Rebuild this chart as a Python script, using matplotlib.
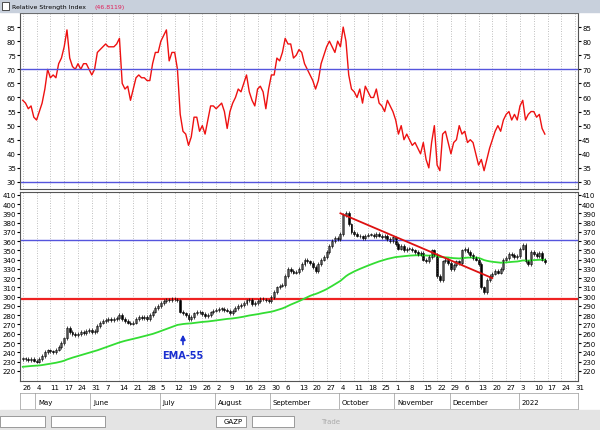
import numpy as np
import matplotlib
matplotlib.use("Agg")
import matplotlib.pyplot as plt
from matplotlib.patches import Rectangle

close = [233,233,232,233,231, 230,233,236,240,242, 241,240,243,246,250, 255,266,262,260,259,
         260,262,261,263,264, 262,263,268,272,274, 275,276,275,276,277, 280,276,274,272,271,
         272,276,278,277,278, 276,280,284,288,290, 293,295,297,296,298, 297,296,284,282,280,
         276,278,282,284,283, 281,279,280,283,285, 286,287,287,286,285, 282,285,288,290,291,
         293,296,297,292,293, 295,298,297,296,295, 300,305,310,312,313, 322,330,328,326,327,
         330,335,340,338,336, 332,328,335,340,343, 348,355,360,363,362, 368,388,390,378,370,
         368,366,365,363,366, 367,367,365,368,366, 364,366,362,360,364, 357,352,355,350,352,
         352,350,348,346,347, 340,338,343,350,345, 322,318,338,340,336, 330,334,338,336,350,
         352,348,345,342,340, 335,310,305,318,322, 325,328,326,330,340, 342,346,345,343,344,
         352,356,338,335,348, 346,344,347,340,337]
rsi = [59,58,56,57,53, 52,55,58,63,70, 67,68,67,72,74, 78,84,74,71,70, 72,70,72,72,70,
       68,70,76,77,78, 79,78,78,78,79, 81,65,63,64,59, 63,67,68,67,67, 66,66,72,76,76,
       80,82,84,73,76, 76,70,54,48,47, 43,46,53,53,48, 50,47,52,57,57, 56,57,58,55,49,
       55,58,60,63,62, 65,68,62,59,57, 63,64,62,56,63, 68,68,74,73,76, 81,79,79,74,75,
       77,76,72,70,68, 66,63,66,72,75, 78,80,78,76,80, 78,85,80,68,63, 62,60,63,58,64,
       62,60,60,63,58, 57,55,59,57,55, 52,47,50,45,47, 45,43,44,42,40, 44,38,35,44,50,
       36,34,47,48,44, 40,44,45,50,47, 48,44,45,44,40, 36,38,34,38,42, 45,48,50,48,52,
       54,55,52,54,52, 57,59,52,54,55, 55,53,54,49,47]
day_labels = ["26","4","11","17","24","31","7","14","21","28","5","12","19","26","2","9","16",
              "23","30","6","13","20","27","4","11","18","25","1","8","15","22","29","6","13",
              "20","27","3","10","17","24","31"]
months = [("May",1),("June",5),("July",10),("August",14),("September",18),("October",23),
          ("November",27),("December",31),("2022",36)]
ema_seed = 224.0
resist, support = 361, 298
trend = [(115, 390), (170, 320)]

n = len(close)
x = np.arange(n)
opn = [close[0]] + close[:-1]
ema = []
e = ema_seed
for c in close:
    e = e + (c - e) * 2 / 56
    ema.append(e)

fig = plt.figure(figsize=(6, 4.31), dpi=100)
fig.patch.set_facecolor("white")
fs = 5
# header
fig.add_artist(Rectangle((0, 1-13/431), 1, 13/431, transform=fig.transFigure, color="#c8d0dc"))
fig.add_artist(Rectangle((0.003, 1-11/431), 0.012, 8/431, transform=fig.transFigure, fc="white", ec="#333", lw=0.6))
fig.text(0.02, 1-7/431, "Relative Strength Index", fontsize=4.5, va="center")
fig.text(0.158, 1-7/431, "(46.8119)", fontsize=4.5, va="center", color="#e0205a")

L, W = 20/600, 558/600
ax1 = fig.add_axes([L, 1-190/431, W, 176/431])
ax2 = fig.add_axes([L, 1-382/431, W, 189/431])
xl = (-1, 201)
for ax in (ax1, ax2):
    ax.set_xlim(*xl)
    ax.set_xticks(np.arange(0, 41)*5)
    ax.xaxis.grid(True, ls=(0, (1, 2)), color="#aaaaaa", lw=0.6)
    ax.tick_params(axis="y", which="both", labelsize=fs, length=2, left=True, right=True,
                   labelleft=True, labelright=True, pad=1)
    ax.tick_params(axis="x", length=0)
    for s in ax.spines.values():
        s.set_color("#555")
        s.set_linewidth(0.8)

ax1.plot(x, rsi, color="#ee1111", lw=1)
ax1.axhline(70, color="#5555dd", lw=1)
ax1.axhline(30, color="#5555dd", lw=1)
ax1.set_ylim(27.5, 90)
ax1.set_yticks(range(30, 90, 5))
ax1.set_xticklabels([])

ax2.axhline(resist, color="#5555dd", lw=1)
ax2.axhline(support, color="#ee2222", lw=1.6)
ax2.plot(x, ema, color="#33dd33", lw=1.3)
for i in range(n):
    o, c = opn[i], close[i]
    hi, lo = max(o, c) + 2, min(o, c) - 2
    ax2.vlines(i, lo, hi, color="black", lw=0.5)
    fc = "white" if c >= o else "black"
    ax2.add_patch(Rectangle((i-0.35, min(o, c)), 0.7, max(abs(c-o), 0.6), fc=fc, ec="black", lw=0.4))
ax2.plot([trend[0][0], trend[1][0]], [trend[0][1], trend[1][1]], color="#dd1111", lw=1.3)
ax2.annotate("EMA-55", xy=(58, 262), xytext=(58, 237), ha="center", va="center",
             fontsize=7, fontweight="bold", color="#1a2fd0",
             arrowprops=dict(arrowstyle="-|>", color="#1a2fd0", lw=1.2))
ax2.set_ylim(209, 413)
ax2.set_yticks(range(220, 411, 10))
ax2.set_xticklabels(day_labels, fontsize=fs, ha="left")
ax2.tick_params(axis="x", pad=2)

# month row
axm = fig.add_axes([L, 1-410/431, W, 16/431])
axm.set_xlim(*xl); axm.set_ylim(0, 1)
axm.set_xticks([]); axm.set_yticks([])
for s in axm.spines.values():
    s.set_color("#999"); s.set_linewidth(0.5)
for name, w in months:
    axm.axvline(w*5-0.5, color="#999", lw=0.5)
    axm.text(w*5+0.5, 0.45, name, fontsize=fs, va="center")

# toolbar
fig.add_artist(Rectangle((0, 0), 1, 20/431, transform=fig.transFigure, color="#e4e4e4"))
for (x0, w0) in [(0.0, 0.075), (0.085, 0.09), (0.36, 0.05), (0.42, 0.07)]:
    fig.add_artist(Rectangle((x0, 3/431), w0, 11/431, transform=fig.transFigure, fc="white", ec="#777", lw=0.5))
fig.text(0.372, 8.5/431, "GAZP", fontsize=fs, va="center")
fig.text(0.535, 8.5/431, "Trade", fontsize=fs, va="center", color="#aaa")

fig.savefig("out.png", dpi=100)
